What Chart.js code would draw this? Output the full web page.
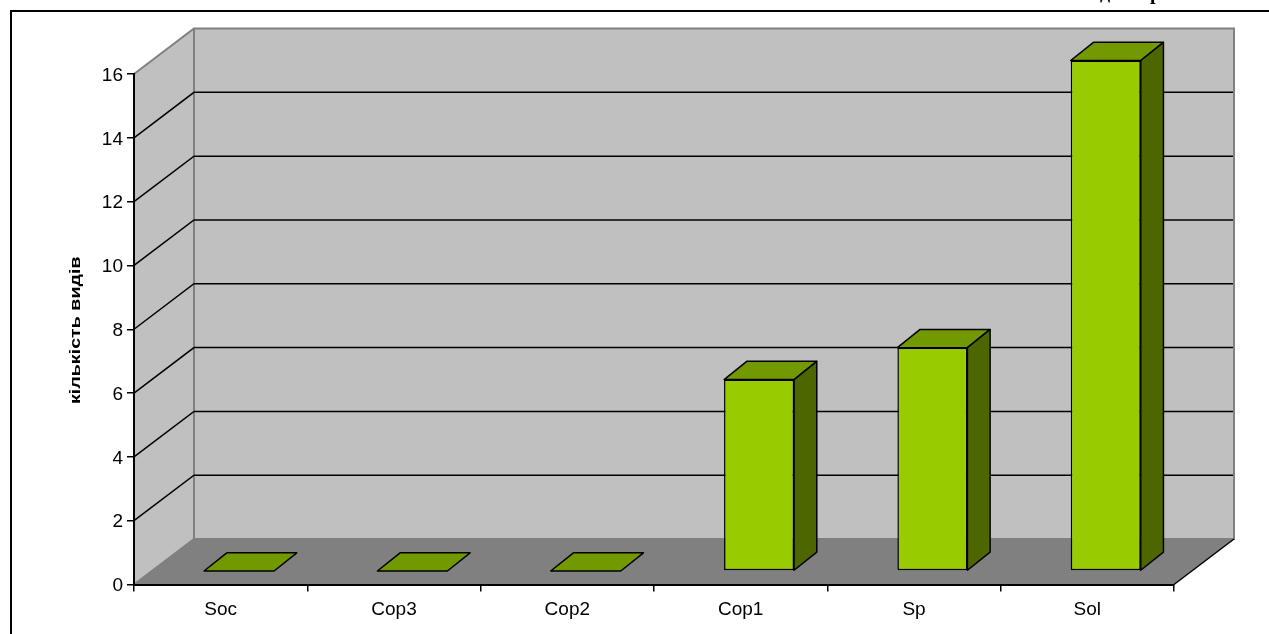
<!DOCTYPE html>
<html lang="uk">
<head>
<meta charset="utf-8">
<title>кількість видів</title>
<style>
  html, body { margin: 0; padding: 0; background: #fff; overflow: hidden; }
  canvas { display: block; }
</style>
<script src="https://cdn.jsdelivr.net/npm/chart.js@4"></script>
</head>
<body>
<canvas id="chart" width="1269" height="634"></canvas>
<script>
const categories = ['Soc', 'Cop3', 'Cop2', 'Cop1', 'Sp', 'Sol'];
const speciesCounts = [0, 0, 0, 6, 7, 16];
const axisTitle = 'кількість видів';
const headerPieces = ['д', 'р'];

const COLORS = {
  wall: '#c0c0c0', floor: '#808080', wallEdge: '#808080', ink: '#000000',
  front: '#99cc00', top: '#739900', side: '#4d6600'
};
const WALL_DX = 60, WALL_DY = 45.5;   // depth of the box behind the axes
const BAR_DX = 22.7, BAR_DY = 18.2;   // depth of each column
const BAR_SHIFT_X = 18.4, BAR_SHIFT_Y = -13.5; // columns stand mid-way into the floor
const STROKE = 1.5;

function poly(ctx, pts, fill, stroke, lw) {
  ctx.beginPath();
  pts.forEach((p, i) => i ? ctx.lineTo(p[0], p[1]) : ctx.moveTo(p[0], p[1]));
  ctx.closePath();
  if (fill) { ctx.fillStyle = fill; ctx.fill(); }
  if (stroke) { ctx.strokeStyle = stroke; ctx.lineWidth = lw; ctx.lineJoin = 'round'; ctx.stroke(); }
}

function line(ctx, pts, color, lw) {
  ctx.beginPath();
  pts.forEach((p, i) => i ? ctx.lineTo(p[0], p[1]) : ctx.moveTo(p[0], p[1]));
  ctx.strokeStyle = color; ctx.lineWidth = lw; ctx.stroke();
}

const box3d = {
  id: 'box3d',
  beforeDraw(chart) {
    const { ctx, chartArea: a, scales: { y } } = chart;
    const L = a.left, R = a.right, T = a.top, B = a.bottom;
    const dx = WALL_DX, dy = WALL_DY;
    ctx.save();

    // page frame
    line(ctx, [[11, 634], [11, 11], [1269, 11]], COLORS.ink, 2);
    ctx.fillStyle = COLORS.ink;
    ctx.font = 'bold 20px "Liberation Serif"';
    ctx.textBaseline = 'alphabetic';
    ctx.textAlign = 'left';
    ctx.fillText(headerPieces[0], 1100, -1);
    ctx.fillText(headerPieces[1], 1150, -1);

    // walls and floor
    poly(ctx, [[L + dx, T - dy], [R + dx, T - dy], [R + dx, B - dy], [L + dx, B - dy]], COLORS.wall);
    poly(ctx, [[L, T], [L + dx, T - dy], [L + dx, B - dy], [L, B]], COLORS.wall);
    poly(ctx, [[L, B], [L + dx, B - dy], [R + dx, B - dy], [R, B]], COLORS.floor);

    // wall outlines
    line(ctx, [[L, B], [L + dx, B - dy], [L + dx, T - dy]], COLORS.wallEdge, 2);
    line(ctx, [[L, T], [L + dx, T - dy], [R + dx, T - dy], [R + dx, B - dy], [L + dx, B - dy]], COLORS.wallEdge, 2);
    line(ctx, [[R, B], [R + dx, B - dy]], COLORS.ink, STROKE);

    // gridlines run across the side wall and along the back wall
    y.ticks.forEach(t => {
      if (t.value <= y.min || t.value >= y.max) return;
      const py = y.getPixelForValue(t.value);
      line(ctx, [[L, py], [L + dx, py - dy], [R + dx - 1, py - dy]], COLORS.ink, STROKE);
    });

    // axis title, drawn a little wider than the font's natural proportions
    ctx.save();
    ctx.translate(76, (T + B) / 2 + 1);
    ctx.rotate(-Math.PI / 2);
    ctx.scale(1.27, 1);
    ctx.fillStyle = COLORS.ink;
    ctx.font = 'bold 15.5px "Liberation Sans"';
    ctx.textAlign = 'center';
    ctx.textBaseline = 'middle';
    ctx.fillText(axisTitle, 0, 0);
    ctx.restore();

    ctx.restore();
  },
  beforeDatasetsDraw(chart) {
    const { ctx } = chart;
    ctx.save();
    ctx.translate(BAR_SHIFT_X, BAR_SHIFT_Y);
    chart.getDatasetMeta(0).data.forEach(bar => {
      const { x, y, width, base } = bar.getProps(['x', 'y', 'width', 'base'], true);
      const l = x - width / 2, r = x + width / 2;
      const h = BAR_DY, d = BAR_DX;
      poly(ctx, [[l, y], [l + d, y - h], [r + d, y - h], [r, y]], COLORS.top, COLORS.ink, STROKE);
      if (base - y > 0) {
        poly(ctx, [[r, y], [r + d, y - h], [r + d, base - h], [r, base]], COLORS.side, COLORS.ink, STROKE);
      }
    });
  },
  afterDatasetsDraw(chart) {
    chart.ctx.restore();
  }
};

new Chart(document.getElementById('chart'), {
  type: 'bar',
  data: {
    labels: categories,
    datasets: [{
      data: speciesCounts,
      backgroundColor: COLORS.front,
      borderColor: COLORS.ink,
      borderWidth: STROKE,
      borderSkipped: false,
      categoryPercentage: 1,
      barPercentage: 0.404,
      clip: false
    }]
  },
  options: {
    responsive: false,
    animation: false,
    layout: { padding: { top: 74, right: 95, left: 0, bottom: 0 } },
    plugins: { legend: { display: false }, title: { display: false }, tooltip: { enabled: false } },
    scales: {
      x: {
        afterFit(scale) { scale.height = 49.5; },
        grid: { offset: true, drawOnChartArea: false, tickLength: 7, color: COLORS.ink, lineWidth: STROKE },
        border: { color: COLORS.ink, width: 2 },
        ticks: { color: '#000', font: { family: '"Liberation Sans"', size: 19 }, padding: 7, maxRotation: 0 }
      },
      y: {
        min: 0, max: 16,
        afterFit(scale) { scale.width = 134; },
        grid: { drawOnChartArea: false, tickLength: 7, color: COLORS.ink, lineWidth: STROKE },
        border: { color: COLORS.ink, width: 2 },
        ticks: { stepSize: 2, color: '#000', font: { family: '"Liberation Sans"', size: 19 }, padding: 4, labelOffset: 1.5 }
      }
    }
  },
  plugins: [box3d]
});
</script>
</body>
</html>
